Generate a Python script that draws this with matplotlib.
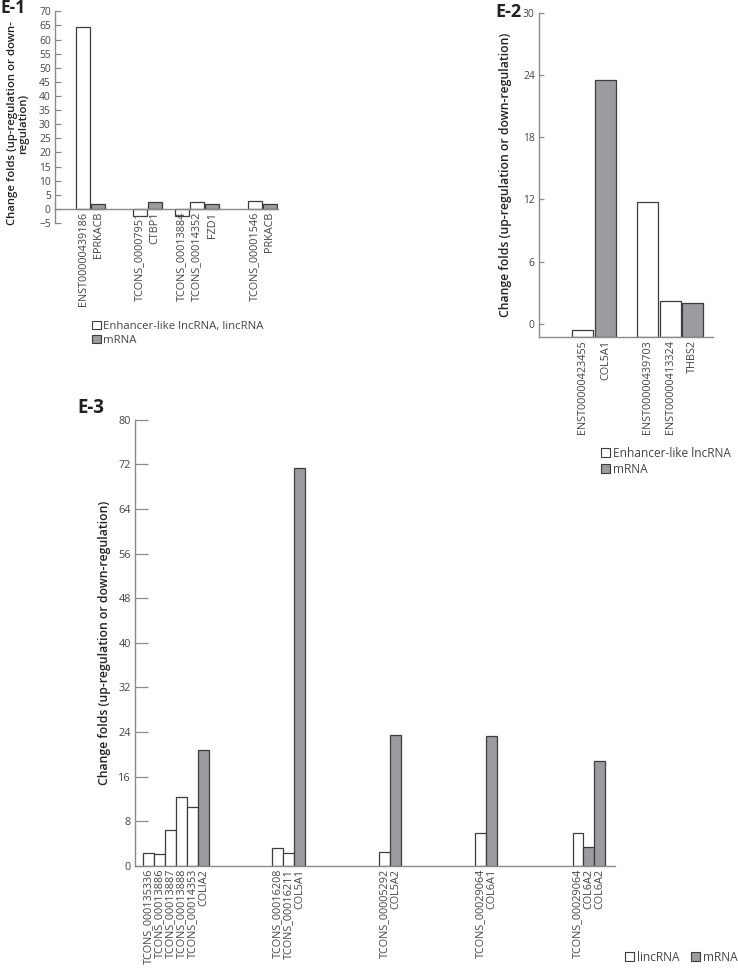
import numpy as np
import matplotlib
matplotlib.use("Agg")
import matplotlib.pyplot as plt
from matplotlib.patches import Patch

plt.rcParams['font.family'] = ['Open Sans', 'DejaVu Sans']

# ---- data ----
e1_labels = ["ENST00000439186", "EPRKACB", "TCONS_00007951", "CTBP1",
             "TCONS_00013884", "TCONS_00014352", "FZD1",
             "TCONS_00001546", "PRKACB"]
e1_values = [64.3, 1.9, -2.6, 2.5, -2.4, 2.5, 1.9, 2.7, 1.9]
e1_kinds = ["lnc", "m", "lnc", "m", "lnc", "lnc", "m", "lnc", "m"]
e1_groups = [2, 2, 3, 2]

e2_labels = ["ENST00000423455", "COL5A1", "ENST00000439703",
             "ENST00000413324", "THBS2"]
e2_values = [-0.55, 23.5, 11.8, 2.2, 2.0]
e2_kinds = ["lnc", "m", "lnc", "lnc", "m"]
e2_groups = [2, 3]

e3_labels = ["TCONS_000135336", "TCONS_00013886", "TCONS_00013887",
             "TCONS_00013888", "TCONS_00014353", "COLIA2",
             "TCONS_00016208", "TCONS_00016211", "COL5A1",
             "TCONS_00005292", "COL5A2",
             "TCONS_00029064", "COL6A1",
             "TCONS_00029064", "COL6A2", "COL6A2"]
e3_values = [2.4, 2.1, 6.5, 12.4, 10.5, 20.8,
             3.3, 2.4, 71.3,
             2.5, 23.5,
             6.0, 23.3,
             6.0, 3.4, 18.8]
e3_kinds = ["lnc", "lnc", "lnc", "lnc", "lnc", "m",
            "lnc", "lnc", "m",
            "lnc", "m",
            "lnc", "m",
            "lnc", "m", "m"]
e3_groups = [6, 3, 2, 2, 3]

# ---- layout / style ----
WHITE = "#ffffff"
GREY = "#9c9ca0"
EDGE = "#3c3c3c"
AXIS = "#8a8a8a"
TXT = "#444444"

W, H = 738, 968
fig = plt.figure(figsize=(W / 100, H / 100), dpi=100)


def px_axes(x0, y0, x1, y1):
    # pixel box (top-left origin) -> figure axes
    return fig.add_axes([x0 / W, 1 - y1 / H, (x1 - x0) / W, (y1 - y0) / H])


def positions(groups, starts):
    pos = []
    for n, s in zip(groups, starts):
        pos.extend(s + np.arange(n))
    return np.array(pos)


def panel(ax, labels, values, kinds, pos, width, ylim, yticks,
          tick_len, tick_fs, label_fs, base=0.0, zero_axis=False):
    if zero_axis:
        # must come first: moving the spine resets the tick settings
        ax.spines['bottom'].set_position(('data', 0))
    colors = [WHITE if k == "lnc" else GREY for k in kinds]
    vals = np.array(values)
    ax.bar(pos, vals - base, bottom=base, width=width, color=colors,
           edgecolor=EDGE, linewidth=0.9, zorder=2)
    ax.set_axisbelow(False)  # tick labels stay visible over negative bars
    ax.set_ylim(*ylim)
    ax.set_yticks(yticks)
    ax.set_xticks(pos)
    ax.set_xticklabels(labels, rotation=90, fontsize=label_fs, color=TXT)
    ax.tick_params(axis='x', length=0, pad=2)
    ax.tick_params(axis='y', direction='in', length=tick_len, width=0.9,
                   color=AXIS, labelsize=tick_fs, labelcolor=TXT, pad=3)
    for s in ("top", "right"):
        ax.spines[s].set_visible(False)
    for s in ("left", "bottom"):
        ax.spines[s].set_color(AXIS)
        ax.spines[s].set_linewidth(1.0)
    ax.patch.set_alpha(0)


def legend(labels, anchor, loc, fs, ncol=1):
    handles = [Patch(facecolor=WHITE, edgecolor=EDGE, linewidth=0.8),
               Patch(facecolor=GREY, edgecolor=EDGE, linewidth=0.8)]
    fig.legend(handles=handles, labels=labels, ncol=ncol, loc=loc,
               bbox_to_anchor=(anchor[0] / W, 1 - anchor[1] / H),
               frameon=False, fontsize=fs, handlelength=0.75,
               handleheight=0.75, handletextpad=0.25, labelspacing=0.25,
               columnspacing=1.0, borderaxespad=0, borderpad=0,
               labelcolor=TXT)


# E-1
ax1 = px_axes(55, 11.3, 278, 223)
pos1 = positions(e1_groups, [0, 3.8, 6.6, 11.45])
panel(ax1, e1_labels, e1_values, e1_kinds, pos1, 0.93,
      (-5, 70), np.arange(-5, 71, 5), 4, 7.4, 7.8, zero_axis=True)
ax1.set_xlim(-1.87, 13.0)
ax1.set_ylabel("Change folds (up-regulation or down-\nregulation)",
               fontsize=8.2, fontweight='semibold', color="#222222",
               linespacing=0.95)
ax1.yaxis.set_label_coords(-26 / 223, 0.47)
fig.text(0 / W, 1 - 8 / H, "E-1", fontsize=12.5, fontweight='bold',
         va='center', ha='left', color="#222222")
legend(["Enhancer-like lncRNA, lincRNA", "mRNA"], (92, 321), 'upper left', 8.2)

# E-2
ax2 = px_axes(539, 12.7, 713, 337)
pos2 = positions(e2_groups, [0, 2.84])
panel(ax2, e2_labels, e2_values, e2_kinds, pos2, 0.93,
      (-1.25, 30), np.arange(0, 31, 6), 3.5, 7.4, 7.8, base=-1.25)
ax2.set_xlim(-1.93, 5.73)
ax2.set_ylabel("Change folds (up-regulation or down-regulation)",
               fontsize=8.8, fontweight='semibold', color="#222222")
ax2.yaxis.set_label_coords(-27 / 174, 0.5)
fig.text(495 / W, 1 - 12 / H, "E-2", fontsize=13, fontweight='bold',
         va='center', ha='left', color="#222222")
legend(["Enhancer-like lncRNA", "mRNA"], (601, 447), 'upper left', 8.6)

# E-3
ax3 = px_axes(135, 419.6, 615, 866)
pos3 = positions(e3_groups, [0, 11.8, 21.55, 30.3, 39.2])
panel(ax3, e3_labels, e3_values, e3_kinds, pos3, 1.0,
      (0, 80), np.arange(0, 81, 8), 9, 7.8, 7.8)
ax3.set_xlim(-1.25, 42.58)
ax3.set_ylabel("Change folds (up-regulation or down-regulation)",
               fontsize=8.8, fontweight='semibold', color="#222222")
ax3.yaxis.set_label_coords(-24 / 480, 0.5)
fig.text(77 / W, 1 - 408 / H, "E-3", fontsize=13.5, fontweight='bold',
         va='center', ha='left', color="#222222")
legend(["lincRNA", "mRNA"], (738, 964), 'lower right', 8.6, ncol=2)

fig.savefig("out.png", dpi=100)
